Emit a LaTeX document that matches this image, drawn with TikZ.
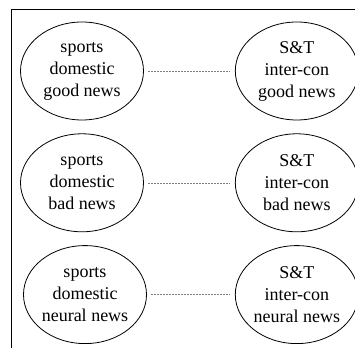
\documentclass[tikz,border=0pt]{standalone}
\usepackage{fontspec}
\setmainfont{Liberation Serif}
\usepackage{tikz}
\usetikzlibrary{shapes.geometric, positioning}
\tikzstyle{topic} = [ellipse, draw=black, line width=0.8pt, minimum width=123pt, minimum height=98pt, inner sep=0pt, align=center, font=\fontsize{18}{22}\selectfont]
\tikzstyle{link} = [densely dotted, gray, line width=0.5pt, shorten <=4pt, shorten >=5pt]

\begin{document}
\begin{tikzpicture}[x=1pt, y=1pt, node distance=13pt]
    % Canvas and frame
    \clip (0,0) rectangle (355,347);
    \draw [line width=1pt] (11,-10) -- (11,337) -- (365,337);

    % Sports, domestic
    \node (sd1) [topic] at (82,276) {sports\\domestic\\good news};
    \node (sd2) [topic, below=of sd1] {sports\\domestic\\bad news};
    \node (sd3) [topic, below=of sd2, xshift=3pt] {sports\\domestic\\neural news};

    % S&T, inter-con
    \node (ti1) [topic, right=91pt of sd1] {S\&T\\inter-con\\good news};
    \node (ti2) [topic, right=91pt of sd2] {S\&T\\inter-con\\bad news};
    \node (ti3) [topic, right=88pt of sd3] {S\&T\\inter-con\\neural news};

    % Links
    \draw [link] (sd1) -- (ti1);
    \draw [link] (sd2) -- (ti2);
    \draw [link] (sd3) -- (ti3);
\end{tikzpicture}
\end{document}
